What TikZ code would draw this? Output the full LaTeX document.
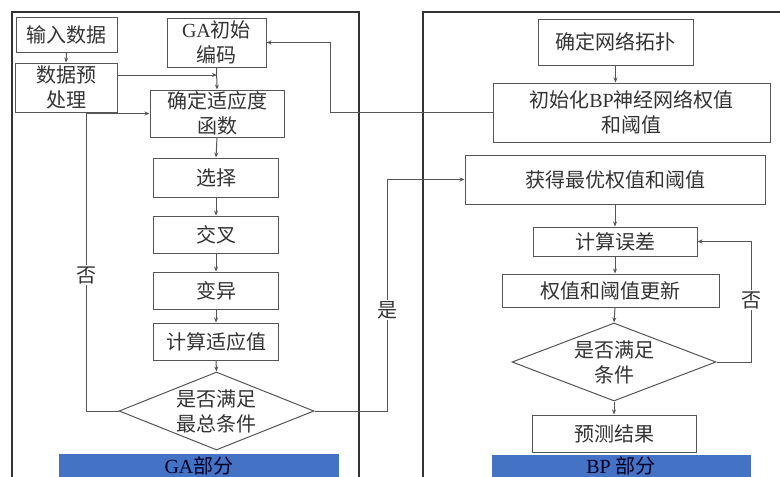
\documentclass[tikz,border=0pt]{standalone}
\usepackage{fontspec}
\setmainfont{Liberation Serif}
\newfontfamily\cjk{Noto Sans CJK SC}
\usetikzlibrary{arrows.meta,shapes.geometric}
\definecolor{lineg}{HTML}{555555}
\definecolor{frameg}{HTML}{333333}
\definecolor{barblue}{HTML}{4472C4}
\tikzset{
  box/.style={draw=lineg, line width=1pt, fill=white, align=center, inner sep=0pt,
    font=\cjk\fontsize{20}{25}\selectfont, text=black!80},
  dec/.style={draw=lineg, line width=1pt, diamond, aspect=2.5, inner sep=0pt, align=center,
    font=\cjk\fontsize{20}{25}\selectfont, text=black!80},
  conn/.style={draw=lineg, line width=1pt},
  arr/.style={conn, -{Stealth[length=5pt,width=4pt]}},
  lab/.style={fill=white, inner sep=1.5pt, font=\cjk\fontsize{20}{22}\selectfont, text=black!80},
  frame/.style={draw=frameg, line width=1.2pt},
  bar/.style={fill=barblue, draw=none},
  bartext/.style={font=\fontsize{20}{22}\selectfont, text=black!85!blue},
}
\begin{document}
\begin{tikzpicture}[x=1pt,y=-1pt]
\useasboundingbox (0,0) rectangle (780,477);
\fill[white] (0,0) rectangle (780,477);
\begin{scope}
\clip (0,0) rectangle (780,477);
% frames
\draw[frame] (12,490) -- (12,12) -- (359,12) -- (359,490);
\draw[frame] (423,490) -- (423,12) -- (790,12);
% bars
\fill[bar] (59,454) rectangle (339,485);
\fill[bar] (492,455) rectangle (751,485);
\end{scope}
\node[bartext] (gabar) at (199,466) {GA{\cjk 部分}};
\node[bartext] (bpbar) at (621,466) {BP {\cjk 部分}};

% left column
\node[box, minimum width=101pt, minimum height=35pt] (in1) at (66.5,34.5) {输入数据};
\node[box, minimum width=102pt, minimum height=49pt] (pre) at (66,87.5) {数据预\\处理};
\node[box, minimum width=99pt, minimum height=49pt] (ga) at (216.5,42.5) {{\rmfamily GA}初始\\编码};
\node[box, minimum width=134pt, minimum height=47pt] (fit) at (217,113.5) {确定适应度\\函数};
\node[box, minimum width=125pt, minimum height=39pt] (sel) at (216,177.5) {选择};
\node[box, minimum width=125pt, minimum height=37pt] (cro) at (216,234.5) {交叉};
\node[box, minimum width=125pt, minimum height=37pt] (mut) at (216,290.5) {变异};
\node[box, minimum width=125pt, minimum height=37pt] (cal) at (216,341.5) {计算适应值};
\node[dec, minimum width=195pt, minimum height=78pt] (dia) at (216.5,411) {是否满足\\最总条件};

% right column
\node[box, minimum width=155pt, minimum height=46pt] (topo) at (615.5,42) {确定网络拓扑};
\node[box, minimum width=277pt, minimum height=59pt] (init) at (631.5,112.5) {初始化{\rmfamily BP}神经网络权值\\和阈值};
\node[box, minimum width=300pt, minimum height=49pt] (best) at (615,179.5) {获得最优权值和阈值};
\node[box, minimum width=164pt, minimum height=29pt] (err) at (615,241.5) {计算误差};
\node[box, minimum width=217pt, minimum height=33pt] (upd) at (610.5,290.5) {权值和阈值更新};
\node[dec, minimum width=204pt, minimum height=78pt] (dia2) at (614,362) {是否满足\\条件};
\node[box, minimum width=164pt, minimum height=37pt] (pred) at (614,433.5) {预测结果};

% coordinates
\coordinate (jpre) at (217,75);
\coordinate (jinit) at (330,112.5);
\coordinate (jno) at (86,411);
\coordinate (jyes) at (387,411);
\coordinate (jno2) at (751,362);

% left connectors
\draw[arr] (in1.south) -- (pre.north);
\draw[arr] (pre.east |- jpre) -- (jpre);
\draw[arr] (ga.south) -- (fit.north);
\draw[arr] (fit.south) -- (sel.north);
\draw[arr] (sel.south) -- (cro.north);
\draw[arr] (cro.south) -- (mut.north);
\draw[arr] (mut.south) -- (cal.north);
\draw[arr] (cal.south) -- (dia.north);
\draw[arr] (dia.west) -- (jno) |- (fit.west);
\draw[arr] (init.west) -- (jinit) |- (ga.east);
\draw[arr] (dia.east) -- (jyes) |- (best.west);

% right connectors
\draw[arr] (topo.south) -- (init.north -| topo.south);
\draw[arr] (best.south) -- (err.north);
\draw[arr] (err.south) -- (upd.north -| err.south);
\draw[arr] (upd.south -| err.south) -- (dia2.north);
\draw[arr] (dia2.south) -- (pred.north);
\draw[arr] (dia2.east) -- (jno2) |- (err.east);

% labels
\node[lab] (lno) at (86,275) {否};
\node[lab] (lyes) at (387,310) {是};
\node[lab] (lno2) at (751,300) {否};
\end{tikzpicture}
\end{document}
